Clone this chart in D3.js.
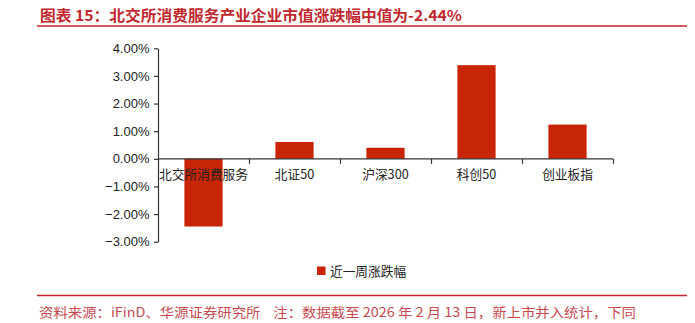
<!DOCTYPE html>
<html><head><meta charset="utf-8">
<script src="https://cdn.jsdelivr.net/npm/d3@7"></script>
<style>
body{margin:0;background:#fff;}
svg{display:block;}
</style></head>
<body><svg id="c" width="695" height="323"></svg>
<script>
const titleText = "图表 15：北交所消费服务产业企业市值涨跌幅中值为-2.44%";
const sourceText = "资料来源：iFinD、华源证券研究所    注：数据截至 2026 年 2 月 13 日，新上市并入统计，下同";
const categories = ["北交所消费服务", "北证50", "沪深300", "科创50", "创业板指"];
const values = [-2.45, 0.61, 0.40, 3.39, 1.24];
const yTicks = [4, 3, 2, 1, 0, -1, -2, -3];
const seriesName = "近一周涨跌幅";

const svg = d3.select("#c");
const red = "#c0282e";
const barColor = "#c82506";
const cjk = "'Noto Sans CJK SC', 'Liberation Sans', sans-serif";

// title
svg.append("text").attr("x", 40).attr("y", 20.5)
  .attr("font-family", cjk).attr("font-weight", "bold").attr("font-size", 15)
  .attr("fill", red).attr("textLength", 422).attr("lengthAdjust", "spacingAndGlyphs")
  .text(titleText);
svg.append("line").attr("x1", 37).attr("x2", 687).attr("y1", 26).attr("y2", 26)
  .attr("stroke", red).attr("stroke-width", 1.5);

// scales
const x = d3.scaleBand().domain(categories).range([158, 613]).paddingInner(0.58).paddingOuter(0.29);
const y = d3.scaleLinear().domain([-3, 4]).range([241.7, 48.3]);

// bars
svg.append("g").selectAll("rect").data(values).join("rect")
  .attr("x", (d, i) => x(categories[i]))
  .attr("width", x.bandwidth())
  .attr("y", d => y(Math.max(0, d)))
  .attr("height", d => Math.abs(y(d) - y(0)))
  .attr("fill", barColor);

// y axis
const yAxis = svg.append("g").attr("transform", "translate(158,0)")
  .call(d3.axisLeft(y).tickValues(yTicks).tickSize(4).tickSizeOuter(0)
    .tickFormat(d => d3.format(".2f")(d) + "%"));
yAxis.select(".domain").attr("stroke", "#333").attr("stroke-width", 1.2);
yAxis.selectAll(".tick line").attr("stroke", "#333").attr("stroke-width", 1.2);
yAxis.selectAll("text").attr("font-family", "'Liberation Sans', Arial, sans-serif")
  .attr("font-size", 13).attr("fill", "#222").attr("x", -8.5);

// x axis at zero
const bounds = categories.map(c => x(c) - x.step() * x.paddingInner() / 2);
bounds.push(613);
const xg = svg.append("g");
xg.append("line").attr("x1", 158).attr("x2", 613).attr("y1", y(0)).attr("y2", y(0))
  .attr("stroke", "#333").attr("stroke-width", 1.2);
xg.selectAll("line.t").data(bounds.slice(1)).join("line").attr("class", "t")
  .attr("x1", d => Math.round(d) + 0.5).attr("x2", d => Math.round(d) + 0.5)
  .attr("y1", y(0)).attr("y2", y(0) + 5).attr("stroke", "#333").attr("stroke-width", 1.2);
xg.selectAll("text").data(categories).join("text")
  .attr("x", d => x(d) + x.bandwidth() / 2).attr("y", 178.5)
  .attr("text-anchor", "middle").attr("font-family", cjk).attr("font-size", 12.7)
  .attr("fill", "#222").text(d => d);

// legend
svg.append("rect").attr("x", 317).attr("y", 266.5).attr("width", 8.5).attr("height", 8.5).attr("fill", barColor);
svg.append("text").attr("x", 330).attr("y", 276).attr("font-family", cjk).attr("font-size", 12.7)
  .attr("fill", "#222").text(seriesName);

// footer
svg.append("line").attr("x1", 37).attr("x2", 687).attr("y1", 295.5).attr("y2", 295.5)
  .attr("stroke", red).attr("stroke-width", 1.3);
svg.append("text").attr("x", 39).attr("y", 316.5).attr("font-family", cjk).attr("font-size", 13)
  .attr("fill", "#c44a4f").style("white-space", "pre")
  .attr("textLength", 597).attr("lengthAdjust", "spacingAndGlyphs")
  .text(sourceText);
</script></body></html>
